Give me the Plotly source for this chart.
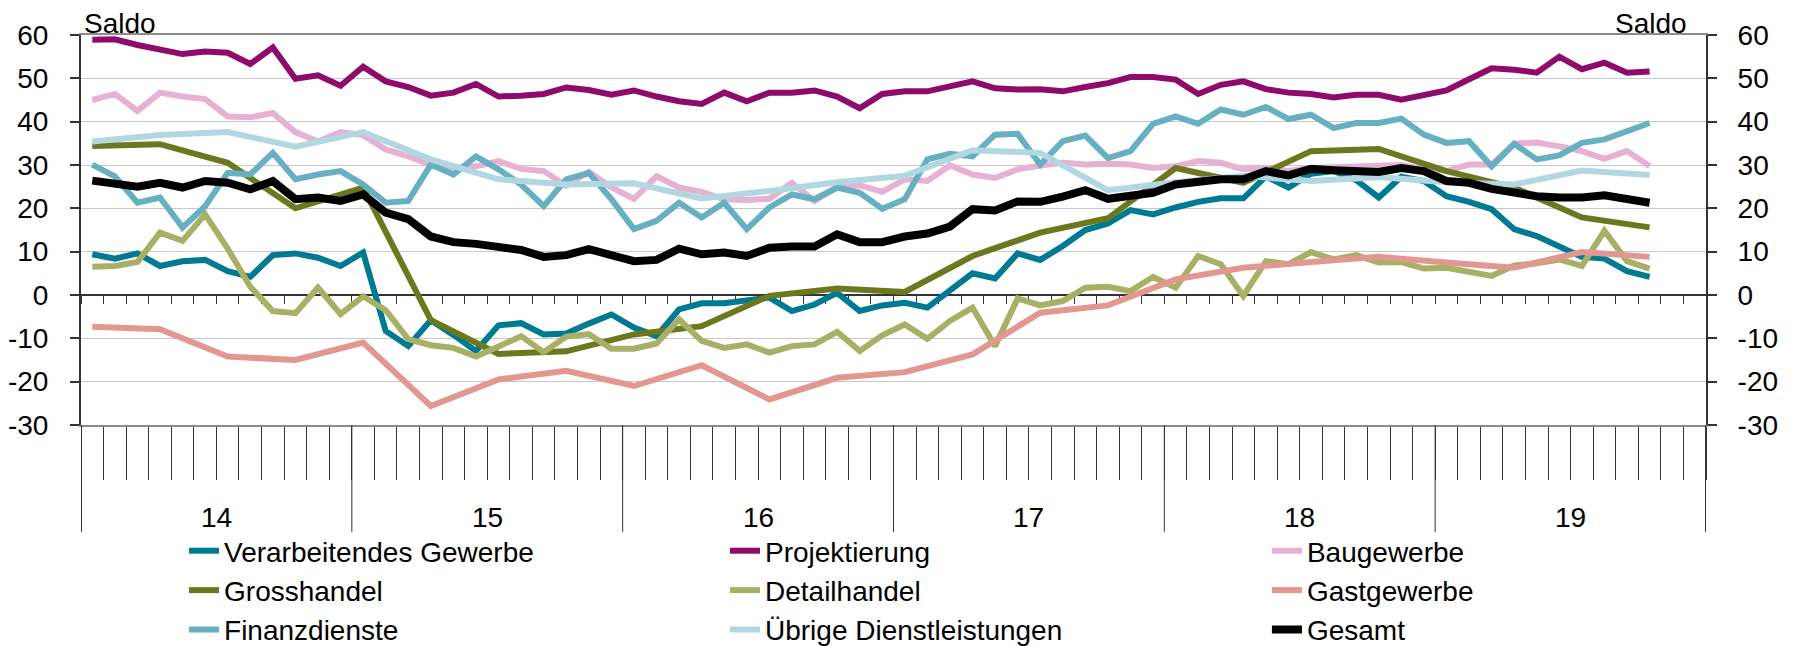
import plotly.graph_objects as go

# monthly categories Jan 2014 .. Dec 2019 (data runs to Oct 2019)
months = [f"{y}-{m:02d}" for y in range(2014, 2020) for m in range(1, 13)]
years = ["14", "15", "16", "17", "18", "19"]
y_ticks = [-30, -20, -10, 0, 10, 20, 30, 40, 50, 60]
y_ticktext = ["-30", "-20", "-10", "0", "10", "20", "30", "40", "50", "60"]

verarbeitendes = [9.4, 8.4, 9.6, 6.7, 7.8, 8.1, 5.5, 4.2, 9.2, 9.6,
                  8.6, 6.7, 9.8, -8.3, -11.8, -5.8, -9.2, -12.9, -7.0, -6.5,
                  -9.1, -8.9, -6.6, -4.5, -7.5, -9.5, -3.3, -1.9, -1.9, -1.2,
                  -0.6, -3.7, -2.2, 0.5, -3.7, -2.4, -1.8, -2.9, 1.2, 5.0,
                  3.8, 9.6, 8.1, 11.3, 15.0, 16.5, 19.6, 18.6, 20.2, 21.5,
                  22.3, 22.3, 27.4, 24.8, 28.0, 28.6, 26.5, 22.5, 27.3, 26.3,
                  22.8, 21.5, 19.8, 15.2, 13.6, 11.3, 8.8, 8.4, 5.5, 4.2]

projektierung = [58.9, 59.0, 57.7, 56.7, 55.6, 56.2, 55.9, 53.3, 57.1, 49.9,
                 50.7, 48.3, 52.7, 49.3, 48.0, 46.0, 46.7, 48.7, 45.8, 46.0,
                 46.4, 47.9, 47.3, 46.2, 47.2, 45.8, 44.7, 44.1, 46.7, 44.7,
                 46.7, 46.7, 47.2, 45.8, 43.1, 46.4, 47.0, 47.0, 48.0, 49.3,
                 47.7, 47.4, 47.5, 47.0, 48.0, 48.9, 50.3, 50.3, 49.7, 46.4,
                 48.5, 49.3, 47.5, 46.7, 46.4, 45.6, 46.2, 46.2, 45.1, 46.2,
                 47.2, 49.8, 52.3, 52.0, 51.3, 55.0, 52.1, 53.6, 51.3, 51.6]

baugewerbe = [45.0, 46.4, 42.5, 46.7, 45.8, 45.2, 41.2, 41.0, 42.0, 37.6,
              35.4, 37.6, 36.9, 33.6, 32.0, 30.1, 29.3, 29.7, 30.9, 29.1,
              28.6, 25.2, 28.4, 24.8, 22.2, 27.4, 24.8, 23.8, 22.1, 21.9,
              22.2, 25.9, 21.7, 24.8, 25.3, 23.8, 26.7, 26.3, 29.9, 27.8,
              27.0, 29.0, 29.9, 30.5, 30.1, 30.3, 30.1, 29.3, 29.7, 30.9,
              30.5, 29.0, 29.3, 28.6, 29.3, 29.5, 29.6, 29.7, 30.0, 29.0,
              28.6, 30.1, 30.1, 34.9, 35.2, 34.3, 33.2, 31.4, 33.2, 29.7]

detailhandel = [6.5, 6.7, 7.6, 14.4, 12.5, 18.6, 10.7, 1.9, -3.7, -4.2,
                1.7, -4.4, -0.3, -3.5, -10.2, -11.6, -12.2, -14.2, -11.9, -9.5,
                -13.2, -9.6, -9.0, -12.4, -12.4, -11.2, -5.6, -10.6, -12.2, -11.4,
                -13.3, -11.8, -11.4, -8.5, -12.9, -9.3, -6.8, -10.1, -6.0, -2.9,
                -11.8, -0.8, -2.4, -1.4, 1.7, 1.9, 0.9, 4.2, 1.7, 9.0,
                7.1, -0.2, 7.8, 7.1, 9.9, 8.2, 9.2, 7.5, 7.6, 6.1,
                6.3, 5.5, 4.4, 6.8, 7.3, 8.2, 6.7, 14.8, 7.8, 6.1]

finanzdienste = [30.1, 27.4, 21.3, 22.5, 15.6, 20.5, 28.2, 27.8, 32.8, 26.7,
                 27.8, 28.6, 25.5, 21.3, 21.7, 30.1, 27.8, 32.0, 29.0, 25.5,
                 20.5, 26.7, 28.2, 22.1, 15.2, 17.1, 21.3, 17.9, 21.3, 15.2,
                 20.2, 23.2, 22.1, 24.8, 23.6, 19.9, 22.1, 31.3, 32.6, 32.0,
                 37.0, 37.2, 30.1, 35.5, 36.8, 31.6, 33.2, 39.5, 41.2, 39.5,
                 42.8, 41.6, 43.4, 40.6, 41.6, 38.5, 39.7, 39.7, 40.7, 37.0,
                 35.1, 35.5, 29.7, 34.9, 31.3, 32.2, 35.1, 35.9, 37.8, 39.7]

gesamt = [26.4, 25.7, 25.0, 25.9, 24.8, 26.3, 25.9, 24.4, 26.3, 22.1,
          22.5, 21.7, 23.2, 19.0, 17.5, 13.5, 12.2, 11.8, 10.9, 10.4,
          8.8, 9.2, 10.6, 9.4, 7.8, 8.1, 10.7, 9.4, 9.8, 9.0,
          10.9, 11.2, 11.2, 14.0, 12.2, 12.2, 13.5, 14.2, 15.8, 19.8,
          19.5, 21.6, 21.5, 22.7, 24.2, 22.2, 22.8, 23.6, 25.5, 26.3,
          26.7, 26.7, 28.6, 27.6, 29.1, 28.8, 28.6, 28.4, 29.3, 28.6,
          26.3, 25.9, 24.5, 23.6, 22.8, 22.5, 22.5, 23.0, 22.2, 21.3]

# quarterly surveys (Jan, Apr, Jul, Oct)
grosshandel_q = [34.4, 34.8, 30.5, 20.0, 24.8, -5.8, -13.6, -13.0, -9.1, -7.2,
                 -0.2, 1.5, 0.7, 9.0, 14.4, 17.7, 29.3, 25.9, 33.2, 33.7,
                 28.6, 24.8, 17.9, 15.6]
gastgewerbe_q = [-7.3, -7.9, -14.2, -15.0, -11.0, -25.6, -19.5, -17.5, -21.0, -16.2,
                 -24.1, -19.1, -17.8, -13.7, -4.1, -2.4, 3.6, 6.3, 7.6, 8.8,
                 7.5, 6.3, 9.9, 8.8]
uebrige_q = [35.4, 36.9, 37.6, 34.2, 37.6, 31.3, 26.7, 25.5, 25.8, 22.3,
             24.0, 26.0, 27.5, 33.4, 32.8, 24.2, 26.0, 27.5, 26.3, 27.2,
             26.0, 25.5, 28.7, 27.7]

monthly_x = months[:70]
quarter_x = months[0:70:3]

# name, x, y, colour, width, legend column
series = [
    ("Verarbeitendes Gewerbe", monthly_x, verarbeitendes, "#007a92", 6, "legend"),
    ("Projektierung", monthly_x, projektierung, "#8e0b6b", 6, "legend2"),
    ("Baugewerbe", monthly_x, baugewerbe, "#e6b1d2", 6, "legend3"),
    ("Grosshandel", quarter_x, grosshandel_q, "#6c781d", 6, "legend"),
    ("Detailhandel", monthly_x, detailhandel, "#a8b066", 6, "legend2"),
    ("Gastgewerbe", quarter_x, gastgewerbe_q, "#e29791", 6, "legend3"),
    ("Finanzdienste", monthly_x, finanzdienste, "#66b0c2", 6, "legend"),
    ("Übrige Dienstleistungen", quarter_x, uebrige_q, "#b1d8e1", 6, "legend2"),
    ("Gesamt", monthly_x, gesamt, "#000000", 8, "legend3"),
]

fig = go.Figure()
for name, x, y, color, width, leg in series:
    fig.add_trace(go.Scatter(x=x, y=y, name=name, mode="lines", legend=leg,
                             line=dict(color=color, width=width)))

# empty helper trace so the zero-line ticks and the right axis get drawn
fig.add_trace(go.Scatter(x=months, y=[None] * len(months), xaxis="x2", yaxis="y2",
                         showlegend=False, hoverinfo="skip"))

axis_dark = "#333333"

# year separators and axis extensions below the plot
shapes = []
for k in range(len(years) + 1):
    shapes.append(dict(type="line", xref="x", yref="paper", x0=12 * k - 0.5, x1=12 * k - 0.5,
                       y0=0, y1=-0.274, line=dict(color=axis_dark, width=2 if k in (0, len(years)) else 1)))

annotations = [
    dict(text="Saldo", xref="paper", yref="paper", x=0.0006, y=1, xanchor="left", yanchor="bottom",
         yshift=-6, showarrow=False, font=dict(size=28)),
    dict(text="Saldo", xref="paper", yref="paper", x=0.9895, y=1, xanchor="right", yanchor="bottom",
         yshift=-6, showarrow=False, font=dict(size=28)),
]
for k, yr in enumerate(years):
    annotations.append(dict(text=yr, xref="x", yref="paper", x=12 * k + 5.5, y=-0.236,
                            xanchor="center", yanchor="middle", showarrow=False, font=dict(size=28)))

cat_axis = dict(type="category", categoryorder="array", categoryarray=months, range=[-0.5, 71.5],
                tickson="boundaries", ticks="outside", tickwidth=1, tickcolor=axis_dark,
                showticklabels=False, showgrid=False, zeroline=False)

legend_base = dict(orientation="v", xanchor="left", y=-0.259, yanchor="top",
                   font=dict(size=28), bgcolor="rgba(0,0,0,0)", tracegroupgap=0)

# page body adds an 8px margin, so the figure is 8px smaller than the window on each side
fig.update_layout(
    width=1786, height=638,
    margin=dict(l=73, r=88, t=27, b=221, autoexpand=False),
    paper_bgcolor="white", plot_bgcolor="white",
    font=dict(family="Liberation Sans, Arial, sans-serif", size=28, color="black"),
    showlegend=True,
    legend=dict(legend_base, x=0.0634),
    legend2=dict(legend_base, x=0.3963),
    legend3=dict(legend_base, x=0.7298),
    xaxis=dict(cat_axis, ticklen=53, showline=True, linecolor="#8c8c8c", linewidth=2, mirror=True),
    xaxis2=dict(cat_axis, ticklen=8, overlaying="x", anchor="free", position=1 / 3, side="bottom",
                showline=False, layer="below traces"),
    yaxis=dict(range=[-30, 60], tickvals=y_ticks, ticktext=y_ticktext, ticks="outside", ticklen=9,
               tickwidth=2, tickcolor=axis_dark, showline=True, linecolor=axis_dark, linewidth=2,
               gridcolor="#c8c8c8", gridwidth=1, zeroline=True, zerolinecolor=axis_dark,
               zerolinewidth=2, ticklabelstandoff=16),
    yaxis2=dict(range=[-30, 60], tickvals=y_ticks, ticktext=y_ticktext, overlaying="y", side="right",
                anchor="x", ticks="outside", ticklen=9, tickwidth=2, tickcolor=axis_dark,
                showline=True, linecolor=axis_dark, linewidth=2, showgrid=False, zeroline=False,
                ticklabelstandoff=15),
    shapes=shapes,
    annotations=annotations,
)

fig.write_html("out.html")
